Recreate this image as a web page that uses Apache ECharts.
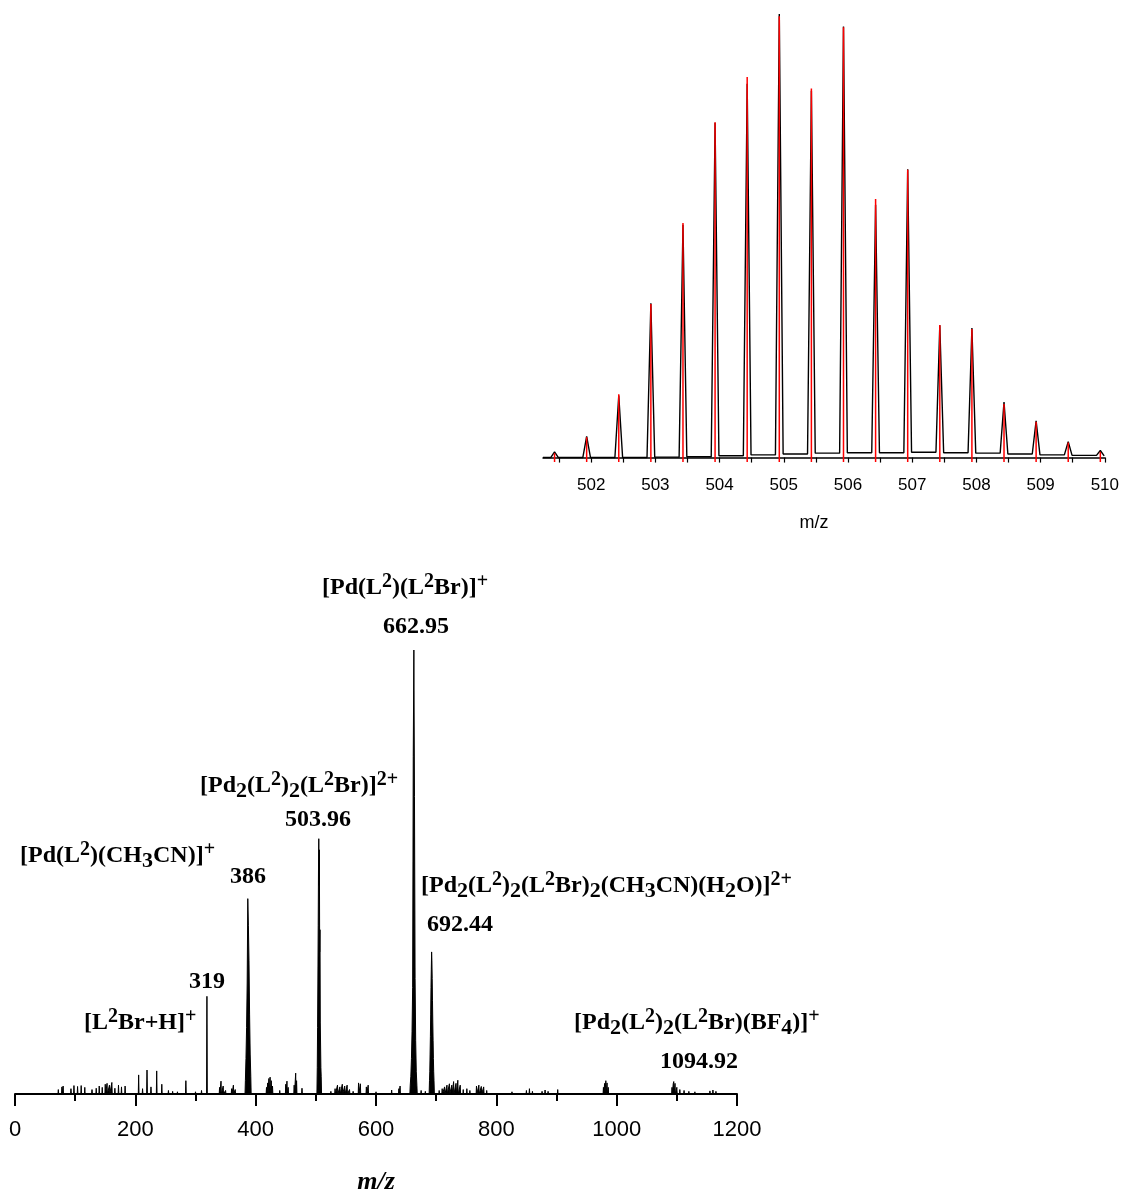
<!DOCTYPE html>
<html>
<head>
<meta charset="utf-8">
<title>ESI-MS</title>
<script src="https://cdn.jsdelivr.net/npm/echarts@6/dist/echarts.min.js"></script>
<style>
  html, body { margin: 0; padding: 0; background: #fff; }
  #chart { width: 1122px; height: 1196px; }
</style>
</head>
<body>
<div id="chart"></div>
<script>
// inset: isotope pattern around m/z 504 (experimental black, simulated red)
const isoMz = [501.43, 501.93, 502.43, 502.93, 503.43, 503.93, 504.43, 504.93, 505.43,
               505.93, 506.43, 506.93, 507.43, 507.93, 508.43, 508.93, 509.43, 509.93];
const isoExp = [1.3, 4.8, 14.0, 34.8, 52.5, 75.5, 84.3, 100, 82.7,
                97.2, 57.0, 65.0, 29.8, 29.2, 12.5, 8.3, 3.6, 1.6];
const isoSim = [1.0, 4.6, 14.3, 34.6, 52.9, 75.6, 85.8, 99.5, 83.2,
                97.0, 58.3, 64.9, 29.9, 29.0, 12.1, 8.1, 3.4, 1.3];
// baseline level of the black trace in each gap (before, between, after peaks)
const isoBase = [0, 0, 0, 0, 0.1, 0.2, 0.4, 0.6, 0.8, 1.0,
                 1.1, 1.1, 1.2, 1.1, 1.0, 0.8, 0.6, 0.5, 0.4];
const isoTicks = [501.5, 502, 502.5, 503, 503.5, 504, 504.5, 505, 505.5,
                  506, 506.5, 507, 507.5, 508, 508.5, 509, 509.5, 510];
const isoLabels = [502, 503, 504, 505, 506, 507, 508, 509, 510];

// full spectrum: peak positions (m/z) and relative intensities (%)
const specMz = [
  72, 78, 80, 93, 98, 104, 110, 116, 128, 135, 140, 145, 150, 153, 157, 161, 166, 172, 177, 183,
  205.5, 212, 219.4, 226, 235.5, 244, 255, 262, 270, 284, 300, 310,
  319,
  340, 342.4, 346, 350, 360, 363, 366,
  382.9, 383.9, 384.9, 385.9, 386.9, 387.9, 388.9, 389.9, 390.9, 391.9,
  418, 420, 422, 424, 426, 428, 440, 450, 452, 454, 464, 466.5, 468, 477,
  502.4, 502.9, 503.4, 503.96, 504.4, 504.9, 505.4, 505.9, 506.4, 506.9, 507.4, 507.9, 508.4, 508.9,
  525, 532, 536, 540, 544, 548, 552, 556, 562, 571, 574, 584, 587, 600, 612, 626, 638, 640,
  656.9, 657.9, 658.9, 659.9, 660.9, 661.9, 662.95, 663.95, 664.95, 665.95, 666.95, 667.95,
  675, 682,
  688.9, 689.4, 689.9, 690.4, 690.9, 691.4, 691.9, 692.44, 692.9, 693.4, 693.9, 694.4, 694.9, 695.4, 695.9, 696.4,
  705, 710, 714, 718, 722, 726, 729, 733, 736, 740, 745, 751, 756, 767, 771, 775, 779, 784,
  800, 826, 850, 855, 860, 876, 881, 886, 902, 940, 978, 980, 982, 984, 986,
  1092, 1094, 1094.92, 1097, 1100, 1105, 1112, 1120, 1130, 1140, 1155, 1160, 1165, 1175
];
const specInt = [
  1.0, 1.6, 1.8, 1.2, 1.9, 1.7, 1.9, 1.5, 1.0, 1.3, 1.8, 1.5, 2.2, 2.4, 2.0, 2.6, 1.3, 2.0, 1.6, 1.8,
  4.3, 1.2, 5.4, 1.6, 5.2, 2.2, 0.8, 0.6, 0.5, 3.0, 0.5, 0.8,
  22,
  1.5, 2.9, 1.8, 0.8, 1.2, 2.0, 1.0,
  3, 8, 15, 25, 44, 38, 30, 18, 9, 4,
  1.5, 2.5, 3.5, 3.8, 3.0, 1.8, 0.8, 2.2, 2.9, 1.5, 2.0, 4.7, 3.0, 1.3,
  6, 15, 25, 38, 50, 57.5, 47, 55, 32, 37, 16, 16, 6, 4,
  0.6, 1.2, 2.0, 1.6, 2.2, 1.8, 2.0, 1.0, 0.6, 2.5, 2.3, 1.6, 2.0, 0.5, 0.4, 0.9, 1.2, 1.8,
  2, 4, 8, 14, 24, 76, 100, 67, 26, 12, 5, 2,
  0.8, 0.6,
  3, 5, 9, 13, 18, 24, 28, 32, 30, 26, 21, 16, 12, 8, 5, 3,
  0.8, 1.2, 1.6, 2.0, 2.3, 2.0, 2.8, 2.4, 3.1, 2.0, 1.0, 1.2, 0.8, 1.8, 2.0, 1.7, 1.6, 0.8,
  0.3, 0.5, 0.8, 1.2, 0.6, 0.6, 0.9, 0.6, 1.0, 0.2, 1.5, 2.4, 3.0, 2.5, 1.5,
  1.5, 2.3, 2.8, 2.4, 1.5, 1.0, 0.8, 0.6, 0.5, 0.4, 0.7, 0.9, 0.6, 0.3
];
const mainTicks = [0, 200, 400, 600, 800, 1000, 1200];

// black trace of the inset: each peak rises from the local baseline
function isoProfile() {
  const w = 0.06;
  const pts = [[501.25, isoBase[0]]];
  isoMz.forEach((m, i) => {
    pts.push([m - w, isoBase[i]]);
    pts.push([m, isoExp[i]]);
    pts.push([m + w, isoBase[i + 1]]);
  });
  pts.push([510, isoBase[isoBase.length - 1]]);
  return pts;
}

// profile of the full spectrum, baseline 0 between separated peaks
function specProfile() {
  const w = 0.6;
  const pts = [[40, 0]];
  specMz.forEach((m, i) => {
    const prev = i > 0 ? specMz[i - 1] : -1e9;
    const next = i < specMz.length - 1 ? specMz[i + 1] : 1e9;
    if (m - w > prev + w) pts.push([m - w, 0]);
    pts.push([m, specInt[i]]);
    if (next - w > m + w) pts.push([m + w, 0]);
  });
  pts.push([1200, 0]);
  return pts;
}

const serif = '"Liberation Serif", "Times New Roman", serif';
const sans = '"Liberation Sans", Arial, sans-serif';
const rich = {
  n: { fontFamily: serif, fontWeight: 'bold', fontSize: 24, lineHeight: 32, verticalAlign: 'middle', fill: '#000' },
  sup: { fontFamily: serif, fontWeight: 'bold', fontSize: 20, lineHeight: 20, verticalAlign: 'top', fill: '#000' },
  sub: { fontFamily: serif, fontWeight: 'bold', fontSize: 22, lineHeight: 22, verticalAlign: 'bottom', fill: '#000' }
};
function label(x, y, text) {
  return {
    type: 'text', x: x, y: y, z: 10,
    style: { text: text, rich: rich, align: 'left', verticalAlign: 'middle' }
  };
}

const chart = echarts.init(document.getElementById('chart'));
chart.setOption({
  animation: false,
  backgroundColor: '#fff',
  grid: [
    { left: 543, right: 17, top: 14, bottom: 734 },
    { left: 15, right: 385, top: 650, bottom: 93 }
  ],
  xAxis: [
    {
      gridIndex: 0, type: 'value', min: 501.25, max: 510,
      axisLine: { lineStyle: { color: '#000', width: 1.5 } },
      axisTick: { length: 5, customValues: isoTicks, lineStyle: { color: '#000', width: 1.2 } },
      axisLabel: { customValues: isoLabels, color: '#000', fontFamily: sans, fontSize: 17, margin: 15 },
      splitLine: { show: false },
      name: 'm/z', nameLocation: 'middle', nameGap: 52,
      nameTextStyle: { color: '#000', fontFamily: sans, fontSize: 18, padding: [0, 20, 0, 0] }
    },
    {
      gridIndex: 1, type: 'value', min: 0, max: 1200, interval: 200,
      axisLine: { lineStyle: { color: '#000', width: 2 } },
      axisTick: { length: 12, lineStyle: { color: '#000', width: 2 } },
      minorTick: { show: true, splitNumber: 2, length: 7, lineStyle: { color: '#000', width: 2 } },
      axisLabel: { color: '#000', fontFamily: sans, fontSize: 22, margin: 17, formatter: v => String(v) },
      splitLine: { show: false },
      name: 'm/z', nameLocation: 'middle', nameGap: 67,
      nameTextStyle: { color: '#000', fontFamily: serif, fontWeight: 'bold', fontStyle: 'italic', fontSize: 26 }
    }
  ],
  yAxis: [
    { gridIndex: 0, type: 'value', min: -1, max: 100, show: false },
    { gridIndex: 1, type: 'value', min: -1.8, max: 100, show: false }
  ],
  series: [
    {
      type: 'line', xAxisIndex: 0, yAxisIndex: 0, data: isoProfile(),
      showSymbol: false, symbol: 'none', lineStyle: { color: '#000', width: 1.4 }, z: 2
    },
    {
      type: 'custom', xAxisIndex: 0, yAxisIndex: 0, z: 3,
      data: isoMz.map((m, i) => [m, isoSim[i]]),
      renderItem: function (params, api) {
        const p0 = api.coord([api.value(0), -1]);
        const p1 = api.coord([api.value(0), api.value(1)]);
        return {
          type: 'line',
          shape: { x1: p0[0], y1: p0[1], x2: p1[0], y2: p1[1] },
          style: { stroke: '#ff0000', lineWidth: 1.5 }
        };
      }
    },
    {
      type: 'line', xAxisIndex: 1, yAxisIndex: 1, data: specProfile(),
      showSymbol: false, symbol: 'none',
      lineStyle: { color: '#000', width: 1 },
      areaStyle: { color: '#000', opacity: 1 }
    }
  ],
  graphic: [
    label(322, 588, '{n|[Pd(L}{sup|2}{n|)(L}{sup|2}{n|Br)]}{sup|+}'),
    label(383, 627, '{n|662.95}'),
    label(200, 786, '{n|[Pd}{sub|2}{n|(L}{sup|2}{n|)}{sub|2}{n|(L}{sup|2}{n|Br)]}{sup|2+}'),
    label(285, 820, '{n|503.96}'),
    label(20, 856, '{n|[Pd(L}{sup|2}{n|)(CH}{sub|3}{n|CN)]}{sup|+}'),
    label(230, 877, '{n|386}'),
    label(421, 886, '{n|[Pd}{sub|2}{n|(L}{sup|2}{n|)}{sub|2}{n|(L}{sup|2}{n|Br)}{sub|2}{n|(CH}{sub|3}{n|CN)(H}{sub|2}{n|O)]}{sup|2+}'),
    label(427, 925, '{n|692.44}'),
    label(189, 982, '{n|319}'),
    label(84, 1023, '{n|[L}{sup|2}{n|Br+H]}{sup|+}'),
    label(574, 1023, '{n|[Pd}{sub|2}{n|(L}{sup|2}{n|)}{sub|2}{n|(L}{sup|2}{n|Br)(BF}{sub|4}{n|)]}{sup|+}'),
    label(660, 1062, '{n|1094.92}')
  ]
});
</script>
</body>
</html>
